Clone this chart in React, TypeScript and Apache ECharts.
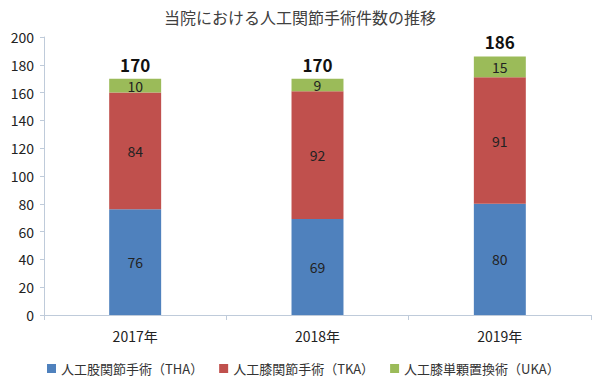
import React, { useEffect, useRef } from "react";
import * as echarts from "echarts";

const categories = ["2017年", "2018年", "2019年"];
const thaValues = [76, 69, 80];
const tkaValues = [84, 92, 91];
const ukaValues = [10, 9, 15];
const totals = [170, 170, 186];
const seriesNames = ["人工股関節手術（THA）", "人工膝関節手術（TKA）", "人工膝単顆置換術（UKA）"];

const FONT = "'Noto Sans CJK JP', 'Noto Sans', sans-serif";

export default function App() {
  const ref = useRef<HTMLDivElement>(null);
  useEffect(() => {
    const chart = echarts.init(ref.current!, null, { renderer: "svg" });
    const inside = { show: true, position: "inside", color: "#222", fontSize: 14, fontFamily: FONT };
    chart.setOption({
      animation: false,
      textStyle: { fontFamily: FONT },
      title: {
        text: "当院における人工関節手術件数の推移",
        left: "center",
        top: 4,
        textStyle: { fontSize: 16, fontWeight: "normal", color: "#404040", fontFamily: FONT },
      },
      grid: { left: 44, right: 9, top: 37, bottom: 68 },
      legend: {
        data: seriesNames,
        top: 357,
        left: 42,
        itemWidth: 9,
        itemHeight: 9,
        itemGap: 16,
        icon: "rect",
        textStyle: { fontSize: 13, color: "#333", fontFamily: FONT },
      },
      xAxis: {
        type: "category",
        data: categories,
        axisLine: { lineStyle: { color: "#BFCBDA" } },
        axisTick: { show: true, length: 5, lineStyle: { color: "#BFCBDA" } },
        axisLabel: { fontSize: 14, color: "#222", margin: 14, fontFamily: FONT },
      },
      yAxis: {
        type: "value",
        min: 0,
        max: 200,
        interval: 20,
        axisLine: { show: true, lineStyle: { color: "#BFCBDA" } },
        axisTick: { show: true, length: 4, lineStyle: { color: "#BFCBDA" } },
        splitLine: { show: false },
        axisLabel: { fontSize: 14, color: "#222", margin: 10, fontFamily: FONT },
      },
      series: [
        { name: seriesNames[0], type: "bar", stack: "s", data: thaValues, barWidth: "28.5%", itemStyle: { color: "#4F81BD" }, label: inside },
        { name: seriesNames[1], type: "bar", stack: "s", data: tkaValues, barWidth: "28.5%", itemStyle: { color: "#C0504D" }, label: inside },
        { name: seriesNames[2], type: "bar", stack: "s", data: ukaValues, barWidth: "28.5%", itemStyle: { color: "#9BBB59" }, label: inside },
        {
          name: "合計",
          type: "bar",
          stack: "s",
          data: totals.map(() => 0),
          barWidth: "28.5%",
          itemStyle: { color: "transparent" },
          label: {
            show: true,
            position: "top",
            distance: 6,
            formatter: (p: any) => String(totals[p.dataIndex]),
            fontSize: 17,
            fontWeight: "bold",
            color: "#111",
            fontFamily: FONT,
          },
        },
      ],
    });
    return () => chart.dispose();
  }, []);
  return <div ref={ref} style={{ position: "absolute", left: 0, top: 0, width: 600, height: 383 }} />;
}
